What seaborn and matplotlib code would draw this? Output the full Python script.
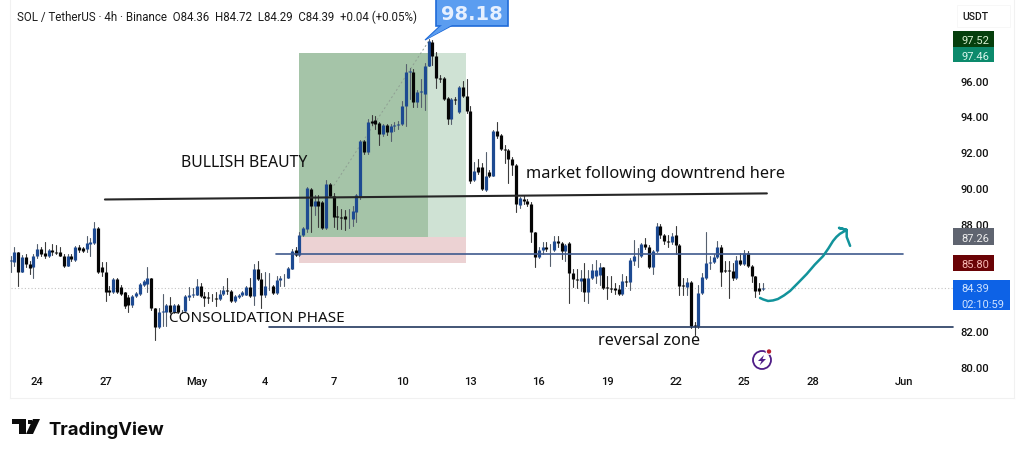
#!/usr/bin/env python3
# SOL / TetherUS 4h chart with hand drawn annotations
import pandas as pd
import matplotlib.pyplot as plt
from matplotlib.patches import Rectangle, Polygon, Circle
import seaborn as sns

###############################################################
#                 Chart values
###############################################################
opens = [
    85.95, 85.85, 86.41, 85.33, 86.17, 85.76, 85.58, 86.23, 86.60, 86.38,
    86.20, 86.55, 86.45, 86.42, 86.23, 85.67, 86.23, 86.00, 86.70, 86.65,
    86.60, 86.90, 86.95, 87.77, 85.60, 85.30, 84.30, 84.20, 84.92, 84.45,
    84.18, 83.90, 83.45, 83.95, 84.10, 84.60, 84.65, 84.97, 83.28, 82.22,
    83.05, 83.10, 83.44, 83.10, 83.44, 83.06, 83.15, 83.90, 84.00, 84.05,
    84.55, 83.95, 83.90, 83.88, 83.85, 83.78, 84.08, 84.30, 84.25, 83.70,
    83.90, 84.00, 84.05, 84.45, 83.95, 85.45, 84.92, 84.00, 84.50, 84.55,
    84.15, 84.85, 84.95, 85.00, 85.50, 86.55, 86.25, 87.35, 87.71, 89.95,
    89.00, 89.30, 89.20, 87.75, 90.22, 89.57, 88.45, 88.36, 88.45, 88.30,
    88.27, 88.68, 89.48, 92.65, 92.00, 93.75, 93.82, 93.63, 93.02, 93.52,
    93.15, 93.47, 93.50, 93.58, 94.56, 96.50, 96.50, 94.80, 95.35, 95.25,
    96.84, 98.18, 97.40, 96.13, 96.13, 95.01, 93.86, 95.00, 94.27, 95.62,
    95.16, 94.32, 90.44, 91.20, 91.20, 89.90, 90.90, 90.69, 93.20, 92.96,
    92.18, 92.10, 91.62, 91.29, 89.05, 89.40, 89.30, 89.11, 87.53, 86.13,
    86.55, 86.73, 86.60, 86.56, 87.03, 86.95, 86.50, 86.93, 85.26, 84.92,
    84.80, 85.00, 84.20, 85.00, 85.10, 85.15, 85.57, 84.45, 84.40, 84.40,
    84.35, 84.08, 84.80, 84.75, 85.95, 86.30, 86.20, 86.90, 86.70, 85.60,
    86.50, 87.86, 87.40, 87.06, 87.00, 87.38, 86.82, 84.58, 84.45, 84.75,
    82.35, 82.28, 84.14, 84.95, 85.80, 85.85, 86.13, 86.73, 85.42, 85.42,
    85.36, 84.95, 86.00, 85.76, 86.35, 85.67, 85.07, 84.40, 84.36,
]
highs = [
    86.20, 86.70, 86.45, 86.27, 86.30, 85.90, 86.30, 86.90, 86.70, 87.00,
    86.60, 86.85, 86.80, 86.70, 86.30, 86.30, 86.30, 86.75, 86.80, 86.70,
    87.30, 87.20, 88.10, 87.80, 85.85, 85.85, 84.50, 84.95, 84.95, 84.60,
    84.20, 84.00, 84.00, 84.20, 84.70, 84.85, 85.60, 85.00, 83.30, 83.30,
    84.10, 83.50, 83.90, 83.50, 83.50, 83.20, 84.05, 84.45, 84.40, 84.90,
    84.70, 84.20, 84.20, 84.10, 84.20, 84.30, 84.50, 85.00, 84.30, 84.05,
    84.10, 84.25, 84.50, 85.00, 85.75, 85.90, 85.25, 85.30, 85.25, 84.60,
    85.10, 85.10, 85.20, 85.60, 86.60, 86.70, 87.55, 87.85, 90.05, 90.00,
    89.60, 89.60, 89.30, 90.45, 90.30, 89.70, 89.00, 88.85, 88.80, 88.85,
    89.00, 89.65, 92.70, 92.70, 93.85, 94.10, 94.00, 93.70, 93.60, 93.60,
    93.60, 93.70, 93.75, 94.85, 96.93, 96.70, 96.65, 95.50, 96.10, 97.00,
    98.30, 98.25, 97.60, 96.30, 96.20, 95.10, 95.05, 95.10, 95.70, 96.00,
    96.10, 94.60, 91.45, 91.60, 91.40, 92.00, 91.00, 93.25, 93.70, 93.00,
    92.40, 92.20, 91.75, 91.35, 89.50, 89.60, 89.40, 89.20, 87.55, 86.70,
    87.00, 87.00, 86.90, 87.30, 87.30, 87.00, 86.90, 87.00, 85.50, 85.45,
    85.40, 85.80, 85.40, 85.75, 86.00, 85.80, 85.60, 85.10, 85.10, 84.70,
    84.60, 85.20, 85.10, 86.10, 87.10, 86.65, 86.95, 87.20, 86.80, 86.55,
    88.05, 88.00, 87.45, 87.35, 87.50, 87.90, 86.90, 85.00, 85.00, 84.80,
    82.50, 84.60, 85.25, 87.55, 86.20, 86.30, 87.05, 86.80, 85.90, 85.90,
    85.80, 86.20, 86.35, 86.55, 86.50, 85.70, 85.10, 84.70, 84.72,
]
lows = [
    85.30, 85.63, 84.55, 85.30, 85.60, 85.20, 85.00, 86.10, 86.20, 86.10,
    86.15, 86.25, 86.30, 86.20, 85.60, 85.65, 85.90, 85.95, 86.45, 86.40,
    86.45, 86.20, 86.90, 85.25, 85.10, 83.70, 84.00, 84.15, 84.15, 84.00,
    83.30, 83.05, 83.35, 83.90, 84.05, 84.50, 84.18, 83.20, 81.50, 82.20,
    82.30, 82.30, 83.00, 83.00, 83.00, 83.00, 83.10, 83.75, 83.90, 84.00,
    83.90, 83.40, 83.60, 83.70, 83.40, 83.75, 84.05, 84.10, 83.65, 83.65,
    83.85, 83.95, 84.00, 83.90, 83.45, 84.85, 83.30, 83.90, 84.30, 84.10,
    84.10, 84.50, 84.50, 84.95, 85.45, 86.20, 86.20, 87.30, 87.55, 87.55,
    88.50, 87.80, 87.70, 87.70, 89.50, 87.80, 87.70, 87.70, 87.65, 87.75,
    87.90, 88.10, 89.40, 91.90, 91.90, 93.50, 93.30, 92.40, 92.90, 92.95,
    92.65, 93.20, 93.30, 93.50, 93.48, 95.00, 94.55, 94.50, 94.55, 94.36,
    96.80, 96.90, 95.60, 95.90, 94.90, 93.60, 93.60, 94.70, 94.20, 95.10,
    94.20, 90.30, 90.40, 90.80, 89.90, 89.85, 90.60, 90.65, 92.80, 92.10,
    91.40, 90.30, 90.70, 88.65, 88.90, 89.10, 89.00, 87.00, 85.60, 86.10,
    86.30, 86.50, 85.65, 86.50, 86.70, 86.05, 85.90, 83.60, 84.46, 84.40,
    84.25, 83.70, 83.60, 84.90, 84.70, 84.60, 84.35, 83.80, 84.20, 84.10,
    84.00, 84.00, 84.50, 84.30, 85.70, 85.60, 86.15, 86.60, 85.55, 85.20,
    86.45, 87.20, 86.90, 86.70, 86.90, 86.30, 84.05, 84.05, 84.05, 82.20,
    81.80, 82.20, 84.10, 84.90, 85.50, 85.80, 86.10, 84.50, 85.30, 83.85,
    84.85, 84.90, 85.70, 85.70, 85.60, 84.75, 83.90, 84.10, 84.29,
]
closes = [
    85.97, 86.41, 85.33, 86.13, 85.76, 85.55, 86.23, 86.60, 86.32, 86.20,
    86.53, 86.45, 86.39, 86.22, 85.67, 86.23, 86.04, 86.70, 86.55, 86.50,
    86.93, 87.00, 87.77, 85.30, 85.30, 84.18, 84.18, 84.92, 84.20, 84.08,
    83.40, 83.45, 83.99, 84.15, 84.65, 84.80, 84.97, 83.28, 82.22, 83.10,
    83.15, 83.44, 83.10, 83.44, 83.06, 83.10, 83.95, 84.05, 84.10, 84.55,
    83.95, 83.85, 83.85, 83.85, 83.78, 84.08, 84.28, 84.25, 83.70, 83.99,
    84.05, 84.18, 84.45, 83.95, 85.45, 84.92, 84.00, 84.50, 84.55, 84.15,
    84.85, 84.95, 85.00, 85.55, 86.50, 86.25, 87.38, 87.75, 89.98, 89.00,
    89.30, 89.00, 87.75, 90.22, 89.57, 88.36, 88.36, 88.30, 88.27, 88.30,
    88.73, 89.61, 92.65, 92.00, 93.67, 93.63, 93.58, 93.02, 93.52, 93.11,
    93.49, 93.50, 93.55, 94.60, 96.50, 96.55, 94.80, 95.38, 95.40, 96.84,
    98.20, 97.40, 96.13, 96.07, 95.00, 93.86, 94.98, 94.90, 95.62, 95.16,
    94.32, 90.41, 90.97, 90.90, 89.95, 90.69, 90.69, 93.20, 92.92, 92.18,
    92.10, 91.62, 91.29, 89.11, 89.42, 89.30, 89.10, 87.53, 86.13, 86.56,
    86.73, 86.60, 86.60, 87.03, 86.95, 86.50, 86.82, 85.26, 84.92, 84.85,
    85.00, 84.20, 85.00, 85.42, 85.42, 85.57, 84.40, 84.40, 84.35, 84.28,
    84.08, 84.80, 84.75, 85.98, 86.20, 86.30, 86.90, 86.70, 85.60, 86.50,
    87.86, 87.40, 87.06, 87.00, 87.34, 86.82, 84.55, 84.50, 84.75, 82.28,
    82.28, 84.14, 85.01, 85.81, 85.85, 86.17, 86.73, 85.33, 85.35, 85.38,
    84.95, 86.00, 85.76, 86.35, 85.67, 85.07, 84.25, 84.25, 84.39,
]

date_ticks = [7, 25, 49, 67, 85, 103, 121, 139, 157, 175, 193, 211, 235]
date_labels = ['24', '27', 'May', '4', '7', '10', '13', '16', '19', '22', '25', '28', 'Jun']
price_ticks = [80, 82, 88, 90, 92, 94, 96]

box_top, box_entry, box_stop = 97.52, 87.26, 85.80
last_price = 84.39

trend_x = [24.8, 199]
trend_y = [89.36, 89.7]
resistance_x = [69.8, 234.8]
resistance_y = [86.32, 86.32]
support_x = [68, 248]
support_y = [82.22, 82.22]
drift_x = [85, 110]
drift_y = [90.13, 98.2]
curve_x = [197.2, 198.0, 199.3, 200.6, 201.9, 203.5, 205.1, 207.3, 209.5, 211.6, 213.8, 215.2,
           216.4, 217.3, 218.2, 220, 218, 220, 220, 220.9]
curve_y = [83.86, 83.78, 83.69, 83.72, 83.8, 84.0, 84.25, 84.72, 85.2, 85.72, 86.2, 86.63,
           87.04, 87.27, 87.44, 87.66, 87.77, 87.66, 87.27, 86.77]

UP = '#1d4a92'
DOWN = '#050505'
TEAL = '#12939b'
UI_FONT = 'Roboto'
NOTE_FONT = 'Noto Sans'

###############################################################
#                 Candles
###############################################################
sns.set_theme(style='white')
fig = plt.figure(figsize=(10.24, 4.56), dpi=100, facecolor='white')
ax = fig.add_axes([10 / 1024, 1 - 399 / 456, 1004 / 1024, 399 / 456])
ax.set_xlim(-0.18, 264.03)
ax.set_ylim(78.27, 100.56)

df = pd.DataFrame({'candle': range(len(opens)), 'open': opens, 'high': highs, 'low': lows, 'close': closes})
df['side'] = ['up' if c >= o else 'down' for o, c in zip(df['open'], df['close'])]
wicks = df.melt(id_vars=['candle', 'side'], value_vars=['high', 'low'], value_name='price')
bodies = df.melt(id_vars=['candle', 'side'], value_vars=['open', 'close'], value_name='price')

ax.add_patch(Rectangle((75.9, box_entry), 33.9, box_top - box_entry, color='#a5c4a8', lw=0, zorder=1))
ax.add_patch(Rectangle((109.8, box_entry), 10, box_top - box_entry, color='#cfe2d4', lw=0, zorder=1))
ax.add_patch(Rectangle((75.9, box_stop), 43.9, box_entry - box_stop, color='#ecd2d3', lw=0, zorder=1))

sns.lineplot(x=[0, 248], y=[last_price, last_price], ax=ax, color='#c4c4c4', lw=0.8,
             linestyle=(0, (1, 2)), zorder=2, errorbar=None)
sns.lineplot(x=drift_x, y=drift_y, ax=ax, color='#8f9f93', lw=0.7,
             linestyle=(0, (2, 2.5)), zorder=2, errorbar=None)

sns.lineplot(data=wicks, x='candle', y='price', units='candle', hue='side', estimator=None,
             palette={'up': '#56606e', 'down': '#3c3c3c'}, lw=0.8, sort=False, legend=False, ax=ax, zorder=3)
sns.lineplot(data=bodies, x='candle', y='price', units='candle', hue='side', estimator=None,
             palette={'up': UP, 'down': DOWN}, lw=2.3, sort=False, legend=False, ax=ax, zorder=4,
             solid_capstyle='butt')

###############################################################
#                 Drawings
###############################################################
sns.lineplot(x=trend_x, y=trend_y, ax=ax, color='#262626', lw=1.5, zorder=5, errorbar=None)
sns.lineplot(x=resistance_x, y=resistance_y, ax=ax, color='#3f5a8e', lw=1.2, zorder=5, errorbar=None)
sns.lineplot(x=support_x, y=support_y, ax=ax, color='#22385f', lw=1.2, zorder=5, errorbar=None)
sns.lineplot(x=curve_x, y=curve_y, ax=ax, color=TEAL, lw=1.8, sort=False, estimator=None, zorder=5)

ax.set_xticks(date_ticks, date_labels)
ax.set_yticks(price_ticks, [f'{p:.2f}' for p in price_ticks])
ax.yaxis.tick_right()
ax.tick_params(axis='x', length=0, pad=-16, labelsize=8, labelcolor='#111111')
ax.tick_params(axis='y', length=0, pad=-38.5, labelsize=8, labelcolor='#111111')
for lab in ax.get_xticklabels() + ax.get_yticklabels():
    lab.set_fontfamily(UI_FONT)
    lab.set_fontweight('medium')
    lab.set_zorder(6)
ax.set_xlabel('')
ax.set_ylabel('')
for side in ax.spines:
    ax.spines[side].set_color('#f1f1f1')
    ax.spines[side].set_linewidth(0.8)
ax.spines['top'].set_visible(False)


def px(x, y):
    return x / 1024, 1 - y / 456


def tag(x0, y0, x1, y1, fc, lines, tc):
    fig.add_artist(Rectangle(px(x0, y1), (x1 - x0) / 1024, (y1 - y0) / 456, fc=fc, ec='none', zorder=7))
    step = (y1 - y0) / len(lines)
    for i, line in enumerate(lines):
        fig.text(*px(961, y0 + step * (i + 0.5)), line, color=tc, fontsize=8, family=UI_FONT,
                 ha='left', va='center_baseline', zorder=8)


tag(953, 32, 994, 48, '#063f0d', ['97.52'], '#d9f2d2')
tag(953, 48, 994, 63, '#0c8a6c', ['97.46'], '#d8f5ec')
tag(953, 229, 994, 246, '#5f6470', ['87.26'], '#eeeeee')
tag(953, 256, 994, 272, '#6a0306', ['85.80'], '#f7b9b4')
tag(953, 281, 1010, 311, '#0d62e6', ['84.39', '02:10:59'], '#cfe2ff')

fig.add_artist(Rectangle(px(957, 28), 53 / 1024, 22 / 456, fc='white', ec='#f6f6f6', lw=0.6, zorder=6))
fig.text(*px(975, 16.5), 'USDT', fontsize=7.5, family=UI_FONT, color='#1a1a1a',
         ha='center', va='center_baseline', zorder=7, fontweight='medium')

fig.text(*px(17, 15.5), 'SOL / TetherUS · 4h · Binance  O84.36  H84.72  L84.29  C84.39  +0.04 (+0.05%)',
         fontsize=8.3, family=UI_FONT, color='#1c1c1c', ha='left', va='center_baseline')

note = dict(family=NOTE_FONT, color='#111111', ha='left', va='center_baseline', zorder=9)
fig.text(*px(181, 161), 'BULLISH BEAUTY', fontsize=11.4, **note)
fig.text(*px(526, 172), 'market following downtrend here', fontsize=11.75, **note)
fig.text(*px(169, 317), 'CONSOLIDATION PHASE', fontsize=11, **note)
fig.text(*px(598, 339), 'reversal zone', fontsize=11.7, **note)

# callout for the high
fig.add_artist(Polygon([px(425, 41), px(441, 26), px(453, 26)], fc='#4c91ee', ec='#1f6bd8', lw=0.8, zorder=8))
fig.add_artist(Rectangle(px(436, 27), 72 / 1024, 27 / 456, fc='#5b9df0', ec='#1f6bd8', lw=1.2, zorder=8))
fig.add_artist(Polygon([px(427, 40), px(442, 26), px(452, 26)], fc='#5b9df0', ec='none', zorder=9))
fig.text(*px(472, 13), '98.18', fontsize=14, fontweight='bold', family='DejaVu Sans', color='#e6f0ff',
         ha='center', va='center_baseline', zorder=10)

# bolt badge
badge = fig.add_axes([751 / 1024, 1 - 373 / 456, 24 / 1024, 24 / 456])
badge.set_xlim(751, 775)
badge.set_ylim(373, 349)
badge.axis('off')
badge.add_patch(Circle((762, 361), 9, fc='none', ec='#4f1d87', lw=1.3))
badge.add_patch(Circle((769, 352.5), 3.4, fc='white', ec='none'))
badge.add_patch(Circle((769, 352.5), 2.2, fc='#b8202f', ec='none'))
badge.add_patch(Polygon([(764, 356), (758, 362), (761.5, 362), (759.5, 366.5), (766, 360), (762.5, 360)],
                        fc='#4f1d87', ec='none'))

# TradingView mark
fig.add_artist(Polygon([px(12, 420), px(26, 420), px(26, 435), px(18.5, 435), px(18.5, 425), px(12, 425)],
                       fc='#0c0c0c', ec='none'))
fig.add_artist(Polygon([px(33, 420), px(40, 420), px(33, 435), px(26, 435)], fc='#0c0c0c', ec='none'))
fig.add_artist(Rectangle(px(27.5, 425), 4.5 / 1024, 4.5 / 456, fc='#0c0c0c', ec='none'))
fig.text(*px(48, 428), 'TradingView', fontsize=13.3, fontweight='bold', family='Inter', color='#0c0c0c',
         ha='left', va='center_baseline')

plt.savefig('out.png', dpi=100)
